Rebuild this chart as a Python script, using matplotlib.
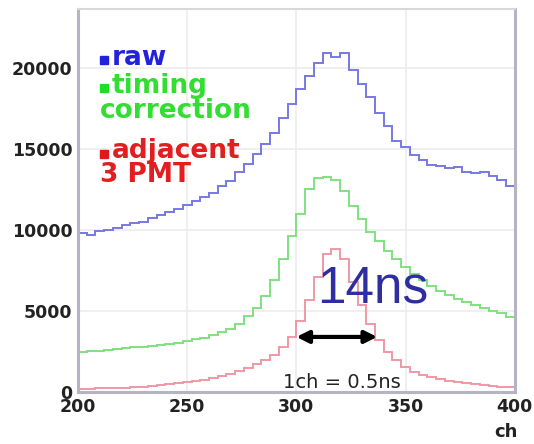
import numpy as np
import matplotlib
matplotlib.use("Agg")
import matplotlib.pyplot as plt

# bin edges in channels (4 ch per bin)
edges = np.arange(200, 401, 4)

raw = [9800, 9700, 9950, 10000, 10150, 10300, 10450, 10500, 10750, 10900,
       11100, 11300, 11550, 11800, 12050, 12300, 12700, 13000, 13600, 14100,
       14700, 15300, 16000, 16900, 17800, 18700, 19500, 20300, 20900, 20700,
       20900, 19900, 19000, 18200, 17200, 16400, 15500, 15100, 14600, 14300,
       14000, 13950, 13800, 13900, 13600, 13500, 13550, 13300, 13100, 12700]

timing = [2500, 2520, 2550, 2600, 2650, 2700, 2750, 2800, 2850, 2900,
          2980, 3050, 3150, 3250, 3350, 3500, 3700, 3900, 4200, 4700,
          5200, 5900, 6900, 8200, 9600, 11000, 12500, 13200, 13250, 13100,
          12400, 11500, 10700, 9900, 9300, 8700, 8200, 7700, 7300, 6900,
          6550, 6250, 6000, 5750, 5550, 5350, 5200, 5000, 4850, 4650]

adjacent = [200, 200, 220, 230, 250, 280, 300, 330, 370, 420,
            470, 530, 600, 680, 770, 870, 980, 1120, 1280, 1470,
            1700, 1950, 2300, 2750, 3400, 4400, 5700, 7100, 8500, 8800,
            8200, 6800, 5400, 4200, 3200, 2500, 1950, 1550, 1250, 1050,
            900, 780, 680, 600, 530, 470, 420, 380, 340, 300]

xticks = [200, 250, 300, 350, 400]
yticks = [0, 5000, 10000, 15000, 20000]

fig = plt.figure(figsize=(5.34, 4.44), dpi=100)
ax = fig.add_axes([0.146, 0.117, 0.818, 0.863])

ax.stairs(raw, edges, color="#7878e4", lw=1.4)
ax.stairs(timing, edges, color="#80e080", lw=1.4)
ax.stairs(adjacent, edges, color="#f098a6", lw=1.4)

ax.set_xlim(200, 400)
ax.set_ylim(0, 23640)
ax.set_xticks(xticks)
ax.set_yticks(yticks)
ax.tick_params(length=0, pad=4)
for lab in ax.get_xticklabels() + ax.get_yticklabels():
    lab.set_family("DejaVu Sans")
    lab.set_fontweight("bold")
    lab.set_fontsize(12.5)
    lab.set_color("#222222")
ax.grid(True, color="#ececec", lw=1.2)
ax.set_axisbelow(True)
for side in ["left", "right", "bottom"]:
    ax.spines[side].set_color("#b4b4c4")
    ax.spines[side].set_linewidth(2.2)
ax.spines["top"].set_color("#d8d8d8")
ax.spines["top"].set_linewidth(1.5)

# legend
tx = ax.transAxes
ax.plot([0.059], [0.867], "s", color="#2222dd", ms=6, transform=tx, clip_on=False)
ax.plot([0.059], [0.794], "s", color="#22dd22", ms=6, transform=tx, clip_on=False)
ax.plot([0.059], [0.621], "s", color="#e01818", ms=6, transform=tx, clip_on=False)
lfont = dict(family="DejaVu Sans", fontweight="bold", fontsize=19,
             va="baseline", transform=tx)
ax.text(0.078, 0.854, "raw", color="#2222dd", **lfont)
ax.text(0.078, 0.781, "timing", color="#33dd33", **lfont)
ax.text(0.050, 0.715, "correction", color="#33dd33", **lfont)
ax.text(0.078, 0.611, "adjacent", color="#e02020", **lfont)
ax.text(0.050, 0.548, "3 PMT", color="#e02020", **lfont)

# width annotation
ax.annotate("", xy=(337, 3400), xytext=(300, 3400),
            arrowprops=dict(arrowstyle="<|-|>", lw=3, color="black",
                            mutation_scale=18, shrinkA=0, shrinkB=0))
ax.text(309.5, 5550, "14ns", family="Liberation Sans", fontsize=37,
        color="#2e2ea0", va="baseline")
ax.text(293.8, 250, "1ch = 0.5ns", family="DejaVu Sans", fontsize=14,
        color="#222222", va="baseline")

fig.text(0.97, 0.015, "ch", family="DejaVu Sans", fontweight="bold",
         fontsize=13, color="#222222", ha="right", va="baseline")

fig.savefig("out.png", dpi=100)
